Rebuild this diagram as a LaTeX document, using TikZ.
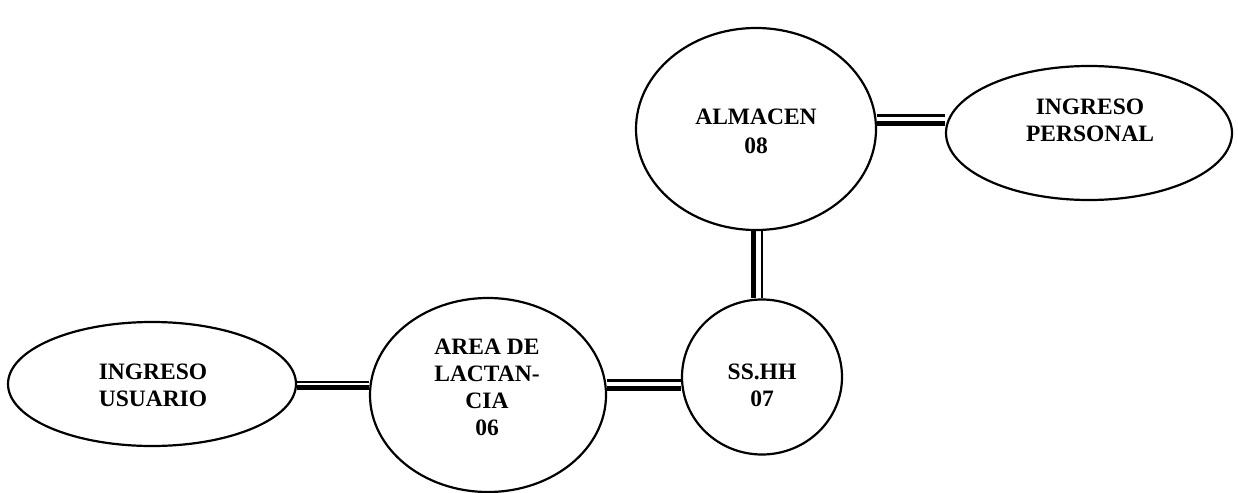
\documentclass[tikz,border=0pt]{standalone}
\usepackage{fontspec}
\setmainfont{Liberation Serif}
\usetikzlibrary{shapes.geometric}
\begin{document}
\begin{tikzpicture}[x=1pt,y=-1pt,
  zone/.style={draw,ellipse,line width=2.2pt,inner sep=0pt},
  lbl/.style={align=center,inner sep=0pt,font=\bfseries\fontsize{23.5}{27}\selectfont},
  thinrule/.style={line width=2.6pt},
  thickrule/.style={line width=5.5pt}]
\useasboundingbox (0,0) rectangle (1238,492);
\node[zone,minimum width=288pt,minimum height=124pt] (usr) at (152,384) {};
\node[zone,minimum width=236pt,minimum height=194pt] (area) at (488,395) {};
\node[zone,minimum width=160pt,minimum height=155pt] (ss) at (762,377) {};
\node[zone,minimum width=240pt,minimum height=202pt] (alm) at (756,129) {};
\node[zone,minimum width=286pt,minimum height=134pt] (per) at (1089,133) {};
\node[lbl] (usrt) at (153,385) {INGRESO\\USUARIO};
\node[lbl] (areat) at (487,387) {AREA DE\\LACTAN-\\CIA\\06};
\node[lbl] (sst) at (762,385) {SS.HH\\07};
\node[lbl,font=\bfseries\fontsize{23.5}{29}\selectfont] (almt) at (756,131) {ALMACEN\\08};
\node[lbl] (pert) at (1090,120) {INGRESO\\PERSONAL};
% connectors
\draw[thinrule] (usr.east |- 0,382) -- (area.west |- 0,382);
\draw[thickrule] (usr.east |- 0,387.5) -- (area.west |- 0,387.5);
\draw[thinrule] (area.east |- 0,380.5) -- (ss.west |- 0,380.5);
\draw[thickrule] (area.east |- 0,388.5) -- (ss.west |- 0,388.5);
\draw[thickrule] (alm.south -| 753.5,0) -- (ss.north -| 753.5,0);
\draw[thinrule] (alm.south -| 762,0) -- (ss.north -| 762,0);
\draw[thinrule] (alm.east |- 0,115.5) -- (per.west |- 0,115.5);
\draw[thickrule] (alm.east |- 0,123.5) -- (per.west |- 0,123.5);
\end{tikzpicture}
\end{document}
